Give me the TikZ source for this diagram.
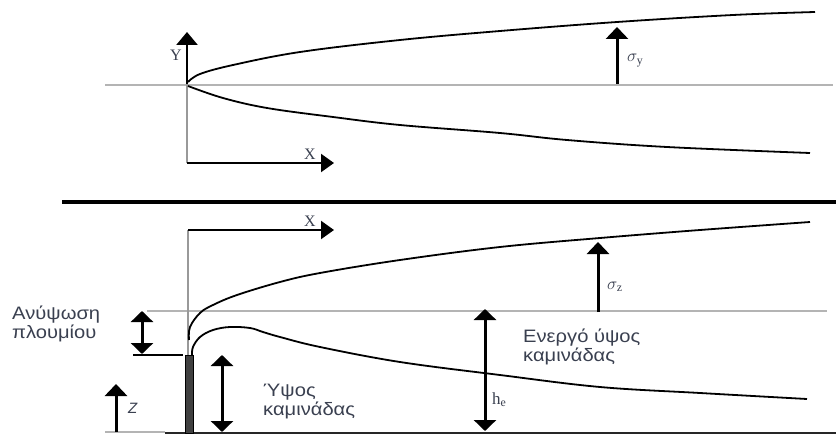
\documentclass[tikz,border=0pt]{standalone}
\usepackage{fontspec}
\setmainfont{Liberation Serif}
\newfontfamily\grk{Liberation Sans}
\newfontfamily\grkw[FakeStretch=1.12]{Liberation Sans}
\usetikzlibrary{arrows.meta}
\definecolor{txt}{HTML}{3A4050}
\definecolor{guidegray}{HTML}{B4B4B4}
\begin{document}
\begin{tikzpicture}[x=1pt,y=-1pt,
  guide/.style={draw=guidegray, line width=1.3pt},
  axisgray/.style={draw=gray!80, line width=1.6pt},
  plume/.style={draw=black, line width=1.8pt},
  arr/.style={line width=3pt, -{Triangle[width=22pt,length=12pt]}},
  darr/.style={line width=3pt, {Triangle[width=22pt,length=11pt]}-{Triangle[width=22pt,length=11pt]}},
  axarr/.style={line width=2pt, -{Triangle[width=18pt,length=13pt]}},
  gtext/.style={inner sep=0pt, text=txt, font=\grkw\fontsize{18}{24}\selectfont, anchor=base west, align=left},
  stext/.style={inner sep=0pt, text=txt, font=\fontsize{17}{17}\selectfont, anchor=base west}]
\useasboundingbox[fill=white] (0,0) rectangle (836,436);

% ---------- top panel ----------
\coordinate (tcl1) at (105,85);
\coordinate (tcl2) at (833,85);
\draw[guide] (tcl1) -- (tcl2);
\coordinate (O1) at (187,84);
\coordinate (Ytip) at (187,32);
\coordinate (C1) at (187,163);
\coordinate (X1tip) at (334,163);
\draw[axisgray] (O1) -- (C1);
\draw[axarr, line width=2.6pt, -{Triangle[width=21pt,length=13pt]}] (O1) -- (Ytip);
\draw[axarr] (C1) -- (X1tip);
\node[stext, font=\fontsize{16}{16}\selectfont] (Ylab) at (170,61) {Y};
\node[stext, font=\fontsize{16}{16}\selectfont] (X1lab) at (304,159) {X};

\draw[plume] plot[smooth, tension=0.6] coordinates {(188,82) (200,74) (233,65) (300,52) (400,40) (500,31) (617,22) (733,15) (815,12)};
\draw[plume] plot[smooth, tension=0.6] coordinates {(188,86) (223,98) (267,108) (333,117) (400,125) (500,133) (567,140) (667,147) (810,153)};

\coordinate (sy0) at (617,84);
\coordinate (sy1) at (617,27);
\draw[arr] (sy0) -- (sy1);
\node[stext] (sylab) at (627,62) {$\sigma_{\mathrm{y}}$};

% ---------- separator ----------
\coordinate (sep1) at (62,202);
\coordinate (sep2) at (836,202);
\draw[line width=4.2pt] (sep1) -- (sep2);

% ---------- bottom panel ----------
\coordinate (bcl1) at (147,311);
\coordinate (bcl2) at (827,311);
\draw[guide] (bcl1) -- (bcl2);

\coordinate (O2) at (188,230);
\coordinate (X2tip) at (334,230);
\coordinate (ctop) at (188,355);
\draw[axisgray] (O2) -- (ctop);
\draw[axarr] (O2) -- (X2tip);
\node[stext, font=\fontsize{16}{16}\selectfont] (X2lab) at (304,226) {X};

% ground
\coordinate (g0) at (105,432);
\coordinate (g0b) at (165,432);
\coordinate (g1) at (165,433);
\coordinate (g2) at (836,433);
\draw[guidegray, line width=1.2pt] (g0) -- (g0b);
\draw[line width=2.6pt, black!85] (g1) -- (g2);

% chimney
\node[draw=black, fill=black!75, line width=0.8pt, minimum width=8pt, minimum height=78pt, inner sep=0pt, anchor=south] (chimney) at (189.5,434) {};

% plume
\draw[plume] plot[smooth, tension=0.6] coordinates {(189,340) (190,327) (200,313) (213,305) (237,295) (280,282) (320,273) (400,260) (500,247) (600,238) (700,230) (810,222)};
\draw[plume] plot[smooth, tension=0.6] coordinates {(192,355) (193,347) (200,337) (213,330) (230,327) (250,328) (263,332) (280,337) (320,347) (400,362) (500,375) (600,387) (700,393) (807,399)};

% sigma z
\coordinate (sz0) at (598,312);
\coordinate (sz1) at (598,242);
\draw[arr] (sz0) -- (sz1);
\node[stext] (szlab) at (607,289) {$\sigma_{\mathrm{z}}$};

% h_e
\coordinate (he0) at (485,309);
\coordinate (he1) at (485,431);
\draw[darr] (he0) -- (he1);
\node[stext] (helab) at (492,404) {h$_{\mathrm{e}}$};
\node[gtext] (en) at (523,361) {Ενεργό ύψος\\[-5pt]καμινάδας};

% stack height
\coordinate (sh0) at (222,355);
\coordinate (sh1) at (222,432);
\draw[darr] (sh0) -- (sh1);
\node[gtext] (yp) at (263,415) {Ύψος\\[-5pt]καμινάδας};

% plume rise
\coordinate (pr0) at (142,311);
\coordinate (pr1) at (142,354);
\draw[darr] (pr0) -- (pr1);
\coordinate (prl0) at (133,355);
\coordinate (prl1) at (183,355);
\draw[line width=1.8pt] (prl0) -- (prl1);
\node[gtext] (an) at (12,338) {Ανύψωση\\[-5pt]πλουμίου};

% Z
\coordinate (z0) at (116,432);
\coordinate (z1) at (116,384);
\draw[arr] (z0) -- (z1);
\node[inner sep=0pt, text=txt, font=\grk\itshape\fontsize{15}{15}\selectfont, anchor=base west] (zlab) at (128,413) {Z};
\end{tikzpicture}
\end{document}
